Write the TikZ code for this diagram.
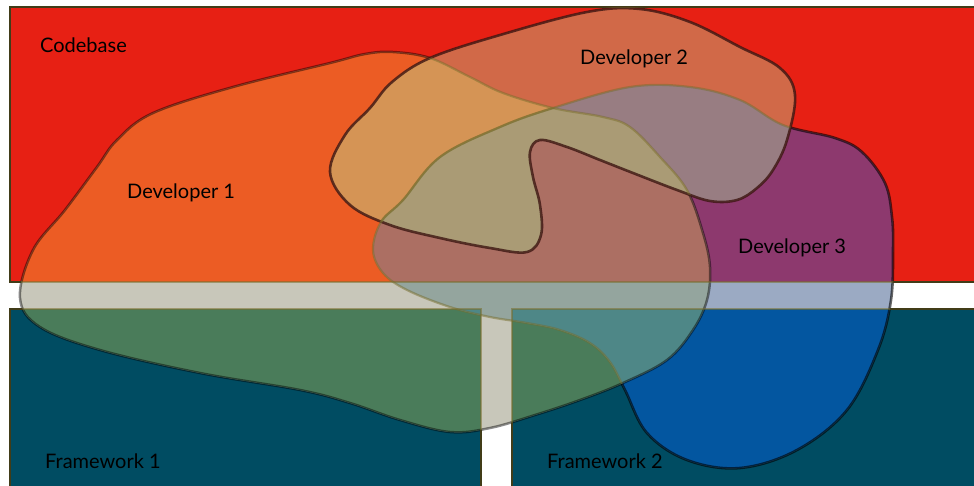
\documentclass[tikz,border=0pt]{standalone}
\usepackage{fontspec}
\setmainfont{Lato}
\definecolor{cbred}{RGB}{231,32,20}
\definecolor{fwteal}{RGB}{0,76,98}
\definecolor{cAw}{RGB}{200,199,186}
\definecolor{cAr}{RGB}{236,92,36}
\definecolor{cAt}{RGB}{74,124,90}
\definecolor{cB}{RGB}{209,105,72}
\definecolor{cAB}{RGB}{213,148,85}
\definecolor{cCw}{RGB}{155,170,195}
\definecolor{cCr}{RGB}{141,57,110}
\definecolor{cCt}{RGB}{3,86,160}
\definecolor{cACw}{RGB}{148,165,158}
\definecolor{cACr}{RGB}{172,111,99}
\definecolor{cACt}{RGB}{78,135,135}
\definecolor{cBC}{RGB}{152,125,130}
\definecolor{cABC}{RGB}{170,155,117}
\definecolor{faintline}{RGB}{120,110,45}
\definecolor{devBline}{RGB}{60,22,18}
\begin{document}
\begin{tikzpicture}[x=1pt,y=-1pt,
  lbl/.style={font=\fontsize{20}{24}\selectfont, text=black, inner sep=0pt, anchor=base west},
  rectline/.style={draw=black, line width=1.5pt},
  faintrect/.style={draw=faintline, line width=1.5pt, opacity=0.55},
  outA/.style={draw=black, line width=2.5pt, opacity=0.45},
  outB/.style={draw=devBline, line width=2.6pt, opacity=0.8},
  outC/.style={draw=black, line width=2.6pt, opacity=0.6},
  faint/.style={draw=faintline, line width=2.2pt, opacity=0.5}]
\useasboundingbox (0,0) rectangle (974,485);
\fill[white] (0,0) rectangle (974,485);
\def\CB{(10,7) rectangle (990,282)}
\def\FA{(10,309) rectangle (481,495)}
\def\FB{(512,309) rectangle (990,495)}
\def\ALL{(-5,-5) rectangle (990,495)}
\def\DevA{plot[smooth cycle, tension=0.6] coordinates {(33,250) (20,298) (40,327) (100,350) (200,373) (300,390) (350,403) (400,420) (450,432) (490,428) (535,415) (580,400) (623,383) (667,360) (693,330) (707,300) (710,267) (703,233) (687,190) (660,157) (630,127) (603,117) (553,108) (503,93) (470,77) (430,58) (393,52) (365,54) (330,63) (233,87) (153,113) (117,140) (97,167) (65,210)}}
\def\DevB{plot[smooth cycle, tension=0.6] coordinates {(330,172) (345,135) (370,108) (392,82) (430,58) (500,35) (587,12) (640,9) (690,22) (740,47) (780,68) (795,95) (787,140) (773,170) (757,188) (737,200) (710,201) (677,190) (633,173) (600,160) (567,147) (540,140) (530,152) (533,177) (540,205) (541,235) (527,252) (490,248) (440,238) (390,225) (350,205)}}
\def\DevC{plot[smooth cycle, tension=0.6] coordinates {(373,250) (383,273) (407,290) (450,307) (490,317) (527,323) (560,330) (590,343) (610,362) (625,390) (647,433) (687,460) (740,468) (797,450) (847,410) (878,350) (891,300) (893,250) (892,217) (885,183) (862,152) (835,138) (783,125) (740,100) (690,87) (630,87) (553,108) (500,127) (440,157) (403,200) (381,222)}}
% base rectangles
\fill[cbred] \CB;
\fill[fwteal] \FA;
\fill[fwteal] \FB;
\draw[rectline] \CB;
\draw[rectline] \FA;
\draw[rectline] \FB;
% Developer 3
\begin{scope}
  \clip \DevC;
  \fill[cCw] \ALL;
  \fill[cCr] \CB;
  \fill[cCt] \FA;
  \fill[cCt] \FB;
\end{scope}
\draw[outC] \DevC;
% Developer 1
\begin{scope}
  \clip \DevA;
  \fill[cAw] \ALL;
  \fill[cAr] \CB;
  \fill[cAt] \FA;
  \fill[cAt] \FB;
  \begin{scope}
    \clip \DevC;
    \fill[cACw] \ALL;
    \fill[cACr] \CB;
    \fill[cACt] \FA;
    \fill[cACt] \FB;
  \end{scope}
\end{scope}
\draw[outA] \DevA;
% Developer 2
\begin{scope}
  \clip \DevB;
  \fill[cB] \ALL;
  \begin{scope}
    \clip \DevC;
    \fill[cBC] \ALL;
  \end{scope}
  \begin{scope}
    \clip \DevA;
    \fill[cAB] \ALL;
    \begin{scope}
      \clip \DevC;
      \fill[cABC] \ALL;
    \end{scope}
  \end{scope}
\end{scope}
\draw[outB] \DevB;
% faint lines showing through the shapes
\begin{scope}
  \clip \DevA;
  \draw[faint] \DevC;
\end{scope}
\begin{scope}
  \clip \DevB;
  \draw[faint] \DevC;
  \draw[faint] \DevA;
\end{scope}
\draw[faintrect] \CB;
\draw[faintrect] \FA;
\draw[faintrect] \FB;
% labels
\node[lbl] (codebase) at (40,52) {Codebase};
\node[lbl] (dev1) at (127,198) {Developer 1};
\node[lbl] (dev2) at (580,64) {Developer 2};
\node[lbl] (dev3) at (738,253) {Developer 3};
\node[lbl] (fw1) at (45,468) {Framework 1};
\node[lbl] (fw2) at (547,468) {Framework 2};
\end{tikzpicture}
\end{document}
